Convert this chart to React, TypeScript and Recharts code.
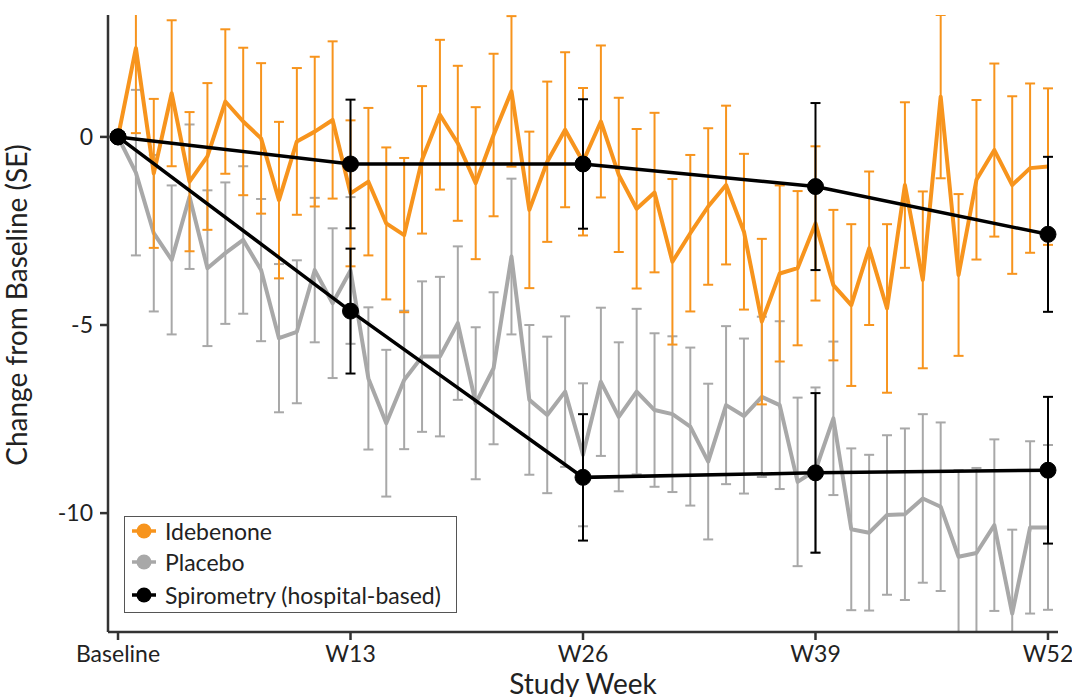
import React from 'react';
import { LineChart, Line, XAxis, YAxis, ErrorBar, Label } from 'recharts';

const idebenoneMean = [0, 2.36, -0.97, 1.16, -1.19, -0.52, 0.94, 0.41, -0.04, -1.68, -0.12, 0.14, 0.45,
  -1.5, -1.19, -2.30, -2.61, -0.61, 0.59, -0.17, -1.23, 0.05, 1.21, -1.94, -0.66, 0.19, -0.66,
  0.41, -1.01, -1.91, -1.48, -3.32, -2.56, -1.85, -1.28, -2.52, -4.91, -3.63, -3.49, -2.30,
  -3.94, -4.47, -2.96, -4.56, -1.28, -3.80, 1.07, -3.67, -1.14, -0.35, -1.28, -0.83, -0.79];
const idebenoneSE = [0, 2.26, 1.98, 1.94, 1.85, 1.95, 1.92, 1.96, 2.0, 2.08, 1.95, 1.99, 2.09,
  1.94, 1.96, 2.02, 2.05, 1.96, 1.99, 2.06, 2.02, 2.16, 2.0, 2.08, 2.13, 2.06, 1.96,
  2.02, 2.05, 2.12, 2.12, 2.2, 2.08, 2.08, 2.11, 2.07, 2.2, 2.34, 2.05, 2.05,
  2.0, 2.15, 2.04, 2.24, 2.2, 2.35, 2.17, 2.15, 2.12, 2.3, 2.36, 2.25, 2.08];
const placeboMean = [0, -0.95, -2.56, -3.27, -1.59, -3.49, -3.09, -2.74, -3.54, -5.35, -5.18, -3.54, -4.42,
  -3.55, -6.42, -7.61, -6.46, -5.84, -5.84, -4.95, -7.08, -6.15, -3.18, -6.99, -7.39, -6.77, -8.45,
  -6.51, -7.44, -6.77, -7.26, -7.37, -7.70, -8.63, -7.13, -7.42, -6.91, -7.13, -9.17, -8.86,
  -7.48, -10.43, -10.52, -10.05, -10.03, -9.61, -9.83, -11.16, -11.06, -10.32, -12.67, -10.38, -10.38];
const placeboSE = [0, 2.2, 2.08, 1.98, 1.92, 2.07, 1.88, 1.96, 1.89, 1.97, 1.9, 1.92, 1.99,
  1.95, 1.89, 1.95, 1.84, 2.0, 2.12, 2.04, 2.02, 2.02, 2.07, 1.99, 2.08, 2.0, 1.9,
  1.97, 1.98, 2.2, 2.04, 2.07, 2.1, 2.07, 2.1, 2.06, 2.13, 2.23, 2.24, 2.2,
  2.04, 2.15, 2.07, 2.12, 2.28, 2.24, 2.24, 2.3, 2.26, 2.28, 2.23, 2.29, 2.19];

const spiroWeeks = [0, 13, 26, 39, 52];
const spiroIdeMean = [0, -0.72, -0.72, -1.32, -2.59];
const spiroIdeSE = [0, 1.71, 1.72, 2.22, 2.06];
const spiroPlaMean = [0, -4.63, -9.05, -8.93, -8.86];
const spiroPlaSE = [0, 1.66, 1.68, 2.12, 1.95];

const xTicks = [0, 13, 26, 39, 52];
const xTickLabels = ['Baseline', 'W13', 'W26', 'W39', 'W52'];
const yTicks = [-10, -5, 0];

const ORANGE = '#F7941D';
const GRAY = '#A8A8A8';
const FONT = 'Lato, "Open Sans", sans-serif';

const data = idebenoneMean.map((v, i) => {
  const row: any = { week: i, ide: v, ideErr: idebenoneSE[i], pla: placeboMean[i], plaErr: placeboSE[i] };
  const k = spiroWeeks.indexOf(i);
  if (k >= 0) {
    row.spA = spiroIdeMean[k];
    row.spAErr = spiroIdeSE[k] || undefined;
    row.spB = spiroPlaMean[k];
    row.spBErr = spiroPlaSE[k] || undefined;
  }
  return row;
});

const YTitle = () => (
  <g>
    <defs>
      <clipPath id="plotClip" clipPathUnits="userSpaceOnUse">
        <rect x={108} y={15} width={952} height={617} />
      </clipPath>
    </defs>
    <text x={27} y={305} transform="rotate(-90 27 305)" textAnchor="middle" fontSize={28} fill="#222" fontFamily={FONT}>
      Change from Baseline (SE)
    </text>
  </g>
);
const XTitle = () => (
  <text x={583} y={694} textAnchor="middle" fontSize={28} fill="#222" fontFamily={FONT}>
    Study Week
  </text>
);

const legendItems = [
  { label: 'Idebenone', color: ORANGE, top: 531 },
  { label: 'Placebo', color: GRAY, top: 562 },
  { label: 'Spirometry (hospital-based)', color: '#000', top: 595 },
];

export default function App() {
  return (
    <div style={{ position: 'absolute', left: 0, top: 0, width: 1072, height: 697, background: '#fff' }}>
      <style>{'[class*="recharts-errorBar"]{clip-path:url(#plotClip);}'}</style>
      <LineChart width={1072} height={697} data={data} margin={{ top: 15, right: 14, bottom: 25, left: 48 }}>
        <XAxis
          dataKey="week"
          type="number"
          domain={[-0.56, 52.56]}
          allowDataOverflow
          ticks={xTicks}
          tickFormatter={(v: number) => xTickLabels[xTicks.indexOf(v)]}
          height={40}
          tickSize={8}
          tickMargin={6}
          stroke="#333"
          strokeWidth={2.5}
          fontSize={23}
          tick={{ fill: '#222', fontSize: 23, fontFamily: FONT }}
        >
          <Label content={<XTitle />} />
        </XAxis>
        <YAxis
          type="number"
          domain={[-13.16, 3.24]}
          allowDataOverflow
          ticks={yTicks}
          width={60}
          tickSize={8}
          tickMargin={7}
          stroke="#333"
          strokeWidth={2.5}
          fontSize={23}
          tick={{ fill: '#222', fontSize: 23, fontFamily: FONT }}
        >
          <Label content={<YTitle />} />
        </YAxis>
        <Line dataKey="pla" stroke={GRAY} strokeWidth={4} dot={false} isAnimationActive={false} strokeLinejoin="round">
          <ErrorBar dataKey="plaErr" direction="y" width={5} stroke={GRAY} strokeWidth={2} />
        </Line>
        <Line dataKey="ide" stroke={ORANGE} strokeWidth={4} dot={false} isAnimationActive={false} strokeLinejoin="round">
          <ErrorBar dataKey="ideErr" direction="y" width={5} stroke={ORANGE} strokeWidth={2} />
        </Line>
        <Line dataKey="spA" stroke="#000" strokeWidth={3.5} connectNulls dot={{ r: 8, fill: '#000', stroke: '#000', strokeWidth: 1 }} isAnimationActive={false}>
          <ErrorBar dataKey="spAErr" direction="y" width={5} stroke="#000" strokeWidth={2} />
        </Line>
        <Line dataKey="spB" stroke="#000" strokeWidth={3.5} connectNulls dot={{ r: 8, fill: '#000', stroke: '#000', strokeWidth: 1 }} isAnimationActive={false}>
          <ErrorBar dataKey="spBErr" direction="y" width={5} stroke="#000" strokeWidth={2} />
        </Line>
      </LineChart>
      <div style={{ position: 'absolute', left: 124, top: 516, width: 333, height: 97, border: '1px solid #555', background: '#fff', boxSizing: 'border-box' }} />
      {legendItems.map((it) => (
        <div key={it.label} style={{ position: 'absolute', left: 131, top: it.top - 14, height: 28, display: 'flex', alignItems: 'center' }}>
          <svg width={26} height={28}>
            <line x1={1} y1={14} x2={25} y2={14} stroke={it.color} strokeWidth={3.5} />
            <circle cx={13} cy={14} r={7.5} fill={it.color} />
          </svg>
          <span style={{ marginLeft: 8, fontSize: 23, fontFamily: FONT, color: '#222', whiteSpace: 'nowrap' }}>{it.label}</span>
        </div>
      ))}
    </div>
  );
}
